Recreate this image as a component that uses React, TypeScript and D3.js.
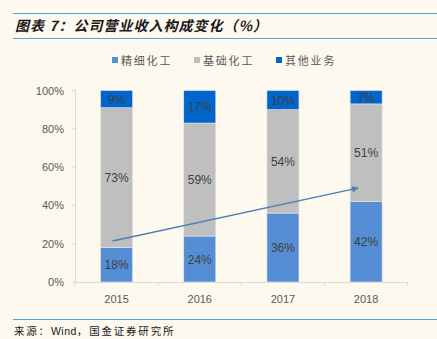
import React from "react";
import * as d3 from "d3";

const years = ["2015", "2016", "2017", "2018"];
const seriesNames = ["精细化工", "基础化工", "其他业务"];
const fine = [18, 24, 36, 42];
const basic = [73, 59, 54, 51];
const other = [9, 17, 10, 7];
const yTicks = [0, 20, 40, 60, 80, 100];
const arrowFrom = { year: "2015", value: 21.4 };
const arrowTo = { year: "2018", value: 49.2 };

const colors = ["#558ed5", "#bfbfbf", "#0066cc"];
const W = 437, H = 339;

export default function App() {
  const x = d3.scaleBand().domain(years).range([75, 407.7]).paddingInner(0.615).paddingOuter(0.3075);
  const y = d3.scaleLinear().domain([0, 100]).range([282, 90.5]);
  const series = [fine, basic, other];
  const table = years.map((yr, i) => ({ year: yr, s0: fine[i], s1: basic[i], s2: other[i] }));
  const stacked = d3.stack<any>().keys(["s0", "s1", "s2"])(table);
  const step = x.step();
  const boundaries = d3.range(years.length + 1).map((i) => 75 + i * step);
  const font = "'Liberation Sans', Arial, sans-serif";
  const cjk = "'Noto Sans CJK SC', sans-serif";
  const ax1 = (x(arrowFrom.year) ?? 0) + x.bandwidth() / 2 - 4;
  const ax2 = (x(arrowTo.year) ?? 0) + x.bandwidth() / 2 - 7;
  const ay1 = y(arrowFrom.value), ay2 = y(arrowTo.value);
  const ang = Math.atan2(ay2 - ay1, ax2 - ax1);
  const hl = 7, hw = 3.2;
  const head = [
    [ax2, ay2],
    [ax2 - hl * Math.cos(ang) + hw * Math.sin(ang), ay2 - hl * Math.sin(ang) - hw * Math.cos(ang)],
    [ax2 - hl * Math.cos(ang) - hw * Math.sin(ang), ay2 - hl * Math.sin(ang) + hw * Math.cos(ang)],
  ];
  const legendX = [112, 194, 276];
  return (
    <svg width={W} height={H} style={{ position: "absolute", left: 0, top: 0, background: "#fdf9ef" }}>
      <rect width={W} height={H} fill="#fdf9ef" />
      <line x1={13} x2={437} y1={13.5} y2={13.5} stroke="#3ea9e6" strokeWidth={1.2} />
      <text x={15} y={31} fontFamily={cjk} fontSize={14} fontWeight="bold" fontStyle="italic" fill="#1a1a1a" letterSpacing={1}>
        图表 7：公司营业收入构成变化（%）
      </text>
      <line x1={13} x2={437} y1={38.5} y2={38.5} stroke="#3ea9e6" strokeWidth={1.2} />
      {seriesNames.map((n, i) => (
        <g key={n}>
          <rect x={legendX[i]} y={57} width={6} height={6} fill={colors[i]} />
          <text x={legendX[i] + 9} y={65} fontFamily={cjk} fontSize={11} fill="#595959" letterSpacing={1.8}>{n}</text>
        </g>
      ))}
      <line x1={75.5} x2={75.5} y1={90.5} y2={282} stroke="#d9d9d9" />
      {yTicks.map((t) => (
        <g key={t}>
          <line x1={72} x2={75.5} y1={y(t)} y2={y(t)} stroke="#d9d9d9" />
          <text x={64} y={y(t) + 4} textAnchor="end" fontFamily={font} fontSize={11} fill="#595959">{t}%</text>
        </g>
      ))}
      <line x1={75} x2={407.7} y1={282.5} y2={282.5} stroke="#d9d9d9" />
      {boundaries.map((b, i) => (
        <line key={i} x1={b} x2={b} y1={282.5} y2={286} stroke="#d9d9d9" />
      ))}
      {stacked.map((layer, si) =>
        layer.map((d, i) => (
          <g key={si + "-" + i}>
            <rect x={x(years[i])} y={y(d[1])} width={x.bandwidth()} height={y(d[0]) - y(d[1])} fill={colors[si]} stroke="#e6e6e6" strokeWidth={0.6} />
            <text x={(x(years[i]) ?? 0) + x.bandwidth() / 2} y={(y(d[0]) + y(d[1])) / 2 + 4.5} textAnchor="middle" fontFamily={font} fontSize={12} fill="#404040">
              {series[si][i]}%
            </text>
          </g>
        ))
      )}
      <line x1={ax1} y1={ay1} x2={head[0][0] - 4 * Math.cos(ang)} y2={head[0][1] - 4 * Math.sin(ang)} stroke="#4a7ebb" strokeWidth={1.5} />
      <polygon points={head.map((p) => p.join(",")).join(" ")} fill="#4a7ebb" />
      {years.map((yr) => (
        <text key={yr} x={(x(yr) ?? 0) + x.bandwidth() / 2} y={303} textAnchor="middle" fontFamily={font} fontSize={11} fill="#595959">{yr}</text>
      ))}
      <line x1={13} x2={437} y1={319.5} y2={319.5} stroke="#3ea9e6" strokeWidth={1.2} />
      <text x={14} y={335} fontFamily={cjk} fontSize={10.5} fill="#1a1a1a" letterSpacing={1.8}>来源：<tspan fontFamily={font} letterSpacing={0.5}>Wind</tspan>，国金证券研究所</text>
    </svg>
  );
}
